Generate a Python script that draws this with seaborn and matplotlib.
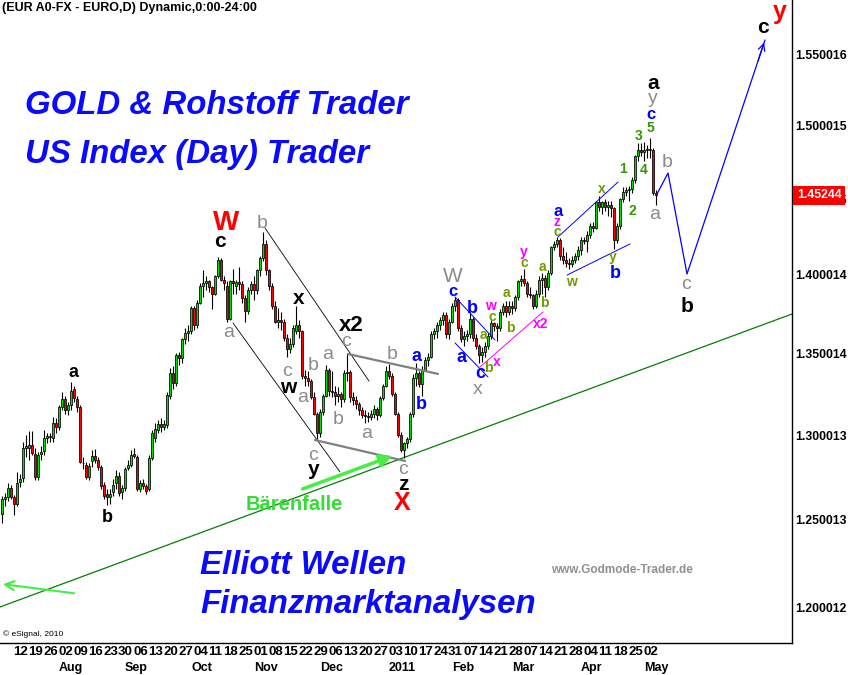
import numpy as np
import pandas as pd
import matplotlib
matplotlib.use("Agg")
import matplotlib.pyplot as plt
import matplotlib.transforms as mtransforms
from matplotlib.ticker import NullLocator, NullFormatter
import seaborn as sns

# ---------------- data (EUR daily candles, 6 Jul 2010 - 6 May 2011) ----------------
dates = pd.bdate_range("2010-07-06", "2011-05-06")
first_index = 2  # business days since 2 Jul 2010

opens = [
    1.2534, 1.2621, 1.2632, 1.2686,
    1.2634, 1.2592, 1.2722, 1.2744, 1.2922,
    1.2922, 1.2940, 1.2886, 1.2750, 1.2886,
    1.2904, 1.2982, 1.2992, 1.2982, 1.3073,
    1.3049, 1.3170, 1.3218, 1.3151, 1.3182,
    1.3280, 1.3218, 1.3170, 1.2835, 1.2820,
    1.2750, 1.2845, 1.2875, 1.2851, 1.2810,
    1.2703, 1.2651, 1.2633, 1.2662, 1.2715,
    1.2756, 1.2662, 1.2686, 1.2803, 1.2821,
    1.2886, 1.2869, 1.2680, 1.2715, 1.2697,
    1.2680, 1.2863, 1.2980, 1.3030, 1.3067,
    1.3048, 1.3060, 1.3240, 1.3380, 1.3320,
    1.3490, 1.3470, 1.3590, 1.3630, 1.3640,
    1.3790, 1.3680, 1.3820, 1.3930, 1.3945,
    1.3960, 1.3920, 1.3880, 1.3990, 1.4100,
    1.3970, 1.3930, 1.3720, 1.3960, 1.3930,
    1.3955, 1.3940, 1.3850, 1.3770, 1.3900,
    1.3940, 1.3900, 1.4030, 1.4110, 1.4200,
    1.4030, 1.3930, 1.3800, 1.3700, 1.3710,
    1.3700, 1.3600, 1.3530, 1.3560, 1.3640,
    1.3680, 1.3640, 1.3360, 1.3350, 1.3330,
    1.3230, 1.3130, 1.3010, 1.3140, 1.3240,
    1.3400, 1.3270, 1.3260, 1.3240, 1.3250,
    1.3220, 1.3380, 1.3385, 1.3230, 1.3215,
    1.3190, 1.3150, 1.3120, 1.3118, 1.3110,
    1.3130, 1.3160, 1.3120, 1.3225, 1.3300,
    1.3390, 1.3360, 1.3250, 1.3130, 1.3000,
    1.2910, 1.2950, 1.2975, 1.3125, 1.3350,
    1.3380, 1.3310, 1.3400, 1.3460, 1.3480,
    1.3620, 1.3640, 1.3680, 1.3710, 1.3740,
    1.3620, 1.3700, 1.3800, 1.3840, 1.3660,
    1.3590, 1.3610, 1.3620, 1.3720, 1.3600,
    1.3550, 1.3490, 1.3510, 1.3550, 1.3610,
    1.3690, 1.3670, 1.3660, 1.3760, 1.3800,
    1.3760, 1.3800, 1.3790, 1.3860, 1.3960,
    1.3975, 1.3950, 1.3880, 1.3870, 1.3800,
    1.3880, 1.3970, 1.3980, 1.3920, 1.4010,
    1.4180, 1.4200, 1.4230, 1.4120, 1.4100,
    1.4080, 1.4070, 1.4100, 1.4120, 1.4160,
    1.4230, 1.4220, 1.4260, 1.4320, 1.4310,
    1.4480, 1.4450, 1.4480, 1.4450, 1.4460,
    1.4440, 1.4230, 1.4320, 1.4500, 1.4550,
    1.4560, 1.4570, 1.4630, 1.4790, 1.4830,
    1.4820, 1.4830, 1.4840, 1.4830, 1.4540,
]
highs = [
    1.2640, 1.2655, 1.2715, 1.2702,
    1.2645, 1.2780, 1.2770, 1.2958, 1.2998,
    1.3024, 1.3024, 1.2920, 1.2900, 1.2935,
    1.3030, 1.3010, 1.3010, 1.3110, 1.3100,
    1.3180, 1.3262, 1.3240, 1.3200, 1.3323,
    1.3300, 1.3235, 1.3180, 1.2870, 1.2840,
    1.2830, 1.2910, 1.2915, 1.2870, 1.2820,
    1.2720, 1.2680, 1.2680, 1.2740, 1.2790,
    1.2780, 1.2700, 1.2810, 1.2850, 1.2910,
    1.2920, 1.2880, 1.2730, 1.2740, 1.2710,
    1.2880, 1.3030, 1.3073, 1.3090, 1.3100,
    1.3090, 1.3260, 1.3410, 1.3420, 1.3500,
    1.3510, 1.3600, 1.3660, 1.3680, 1.3800,
    1.3800, 1.3840, 1.3950, 1.4030, 1.3990,
    1.3970, 1.3930, 1.4000, 1.4115, 1.4110,
    1.3990, 1.3960, 1.3970, 1.4040, 1.3970,
    1.4050, 1.3960, 1.3870, 1.3920, 1.3960,
    1.3990, 1.4040, 1.4120, 1.4282, 1.4230,
    1.4040, 1.3950, 1.3830, 1.3790, 1.3760,
    1.3720, 1.3620, 1.3600, 1.3680, 1.3800,
    1.3710, 1.3650, 1.3400, 1.3390, 1.3340,
    1.3260, 1.3140, 1.3160, 1.3250, 1.3430,
    1.3410, 1.3390, 1.3300, 1.3290, 1.3260,
    1.3400, 1.3505, 1.3400, 1.3260, 1.3240,
    1.3200, 1.3170, 1.3150, 1.3140, 1.3150,
    1.3180, 1.3170, 1.3240, 1.3310, 1.3420,
    1.3435, 1.3380, 1.3260, 1.3140, 1.3020,
    1.2960, 1.2990, 1.3140, 1.3370, 1.3440,
    1.3390, 1.3420, 1.3480, 1.3500, 1.3640,
    1.3660, 1.3700, 1.3730, 1.3760, 1.3760,
    1.3720, 1.3820, 1.3860, 1.3850, 1.3680,
    1.3640, 1.3650, 1.3760, 1.3730, 1.3620,
    1.3560, 1.3540, 1.3570, 1.3630, 1.3710,
    1.3700, 1.3690, 1.3780, 1.3820, 1.3830,
    1.3830, 1.3830, 1.3870, 1.3970, 1.4000,
    1.4040, 1.3960, 1.3920, 1.3880, 1.3900,
    1.3990, 1.4010, 1.4000, 1.4030, 1.4190,
    1.4220, 1.4250, 1.4240, 1.4180, 1.4150,
    1.4110, 1.4120, 1.4140, 1.4190, 1.4250,
    1.4250, 1.4290, 1.4340, 1.4350, 1.4490,
    1.4520, 1.4490, 1.4500, 1.4490, 1.4490,
    1.4450, 1.4340, 1.4510, 1.4580, 1.4580,
    1.4590, 1.4650, 1.4800, 1.4880, 1.4880,
    1.4890, 1.4870, 1.4915, 1.4850, 1.4560,
]
lows = [
    1.2482, 1.2580, 1.2612, 1.2622,
    1.2525, 1.2580, 1.2690, 1.2720, 1.2868,
    1.2851, 1.2880, 1.2732, 1.2730, 1.2850,
    1.2880, 1.2950, 1.2960, 1.2960, 1.3010,
    1.3030, 1.3150, 1.3130, 1.3120, 1.3150,
    1.3200, 1.3140, 1.2830, 1.2800, 1.2740,
    1.2730, 1.2810, 1.2830, 1.2790, 1.2680,
    1.2620, 1.2586, 1.2590, 1.2640, 1.2680,
    1.2640, 1.2620, 1.2670, 1.2790, 1.2810,
    1.2860, 1.2670, 1.2660, 1.2680, 1.2650,
    1.2670, 1.2850, 1.2960, 1.3010, 1.3020,
    1.3030, 1.3040, 1.3220, 1.3280, 1.3300,
    1.3430, 1.3440, 1.3560, 1.3580, 1.3620,
    1.3650, 1.3660, 1.3810, 1.3860, 1.3900,
    1.3890, 1.3780, 1.3870, 1.3980, 1.3960,
    1.3900, 1.3700, 1.3710, 1.3880, 1.3880,
    1.3900, 1.3820, 1.3700, 1.3750, 1.3880,
    1.3840, 1.3880, 1.3990, 1.4090, 1.4000,
    1.3900, 1.3780, 1.3690, 1.3660, 1.3650,
    1.3580, 1.3480, 1.3500, 1.3540, 1.3620,
    1.3600, 1.3340, 1.3300, 1.3300, 1.3220,
    1.3120, 1.2975, 1.2990, 1.3120, 1.3230,
    1.3240, 1.3230, 1.3180, 1.3200, 1.3170,
    1.3200, 1.3330, 1.3200, 1.3180, 1.3160,
    1.3120, 1.3100, 1.3070, 1.3080, 1.3090,
    1.3100, 1.3090, 1.3110, 1.3210, 1.3290,
    1.3340, 1.3240, 1.3120, 1.2990, 1.2900,
    1.2860, 1.2920, 1.2960, 1.3110, 1.3300,
    1.3290, 1.3240, 1.3390, 1.3420, 1.3470,
    1.3590, 1.3600, 1.3650, 1.3680, 1.3600,
    1.3590, 1.3690, 1.3770, 1.3640, 1.3570,
    1.3550, 1.3580, 1.3600, 1.3580, 1.3530,
    1.3440, 1.3450, 1.3480, 1.3530, 1.3590,
    1.3640, 1.3580, 1.3640, 1.3740, 1.3730,
    1.3740, 1.3750, 1.3770, 1.3840, 1.3930,
    1.3930, 1.3860, 1.3850, 1.3780, 1.3790,
    1.3860, 1.3880, 1.3860, 1.3900, 1.4000,
    1.4160, 1.4180, 1.4100, 1.4070, 1.4050,
    1.4040, 1.4050, 1.4080, 1.4100, 1.4130,
    1.4200, 1.4150, 1.4240, 1.4280, 1.4300,
    1.4420, 1.4400, 1.4420, 1.4390, 1.4380,
    1.4170, 1.4210, 1.4300, 1.4480, 1.4520,
    1.4490, 1.4540, 1.4610, 1.4760, 1.4790,
    1.4760, 1.4780, 1.4780, 1.4530, 1.4460,
]
closes = [
    1.2621, 1.2632, 1.2686, 1.2634,
    1.2592, 1.2715, 1.2738, 1.2922, 1.2934,
    1.2940, 1.2892, 1.2750, 1.2880, 1.2898,
    1.2982, 1.2992, 1.2986, 1.3073, 1.3049,
    1.3170, 1.3218, 1.3151, 1.3182, 1.3268,
    1.3225, 1.3170, 1.2840, 1.2830, 1.2750,
    1.2815, 1.2875, 1.2851, 1.2810, 1.2697,
    1.2639, 1.2633, 1.2651, 1.2703, 1.2756,
    1.2656, 1.2686, 1.2797, 1.2821, 1.2880,
    1.2875, 1.2680, 1.2715, 1.2697, 1.2668,
    1.2860, 1.3012, 1.3036, 1.3067, 1.3048,
    1.3067, 1.3243, 1.3380, 1.3320, 1.3490,
    1.3470, 1.3590, 1.3630, 1.3640, 1.3790,
    1.3680, 1.3820, 1.3930, 1.3945, 1.3960,
    1.3920, 1.3880, 1.3990, 1.4100, 1.3970,
    1.3950, 1.3720, 1.3960, 1.3950, 1.3955,
    1.3940, 1.3850, 1.3770, 1.3900, 1.3940,
    1.3900, 1.4030, 1.4110, 1.4200, 1.4030,
    1.3930, 1.3800, 1.3700, 1.3710, 1.3700,
    1.3600, 1.3530, 1.3560, 1.3660, 1.3680,
    1.3640, 1.3360, 1.3350, 1.3330, 1.3230,
    1.3130, 1.3010, 1.3140, 1.3240, 1.3400,
    1.3270, 1.3260, 1.3240, 1.3250, 1.3220,
    1.3380, 1.3385, 1.3230, 1.3215, 1.3190,
    1.3150, 1.3120, 1.3118, 1.3110, 1.3130,
    1.3160, 1.3120, 1.3225, 1.3300, 1.3390,
    1.3360, 1.3250, 1.3130, 1.3000, 1.2910,
    1.2950, 1.2975, 1.3125, 1.3350, 1.3380,
    1.3310, 1.3400, 1.3460, 1.3480, 1.3620,
    1.3640, 1.3680, 1.3710, 1.3740, 1.3620,
    1.3700, 1.3800, 1.3840, 1.3660, 1.3590,
    1.3610, 1.3620, 1.3720, 1.3600, 1.3550,
    1.3490, 1.3510, 1.3550, 1.3610, 1.3690,
    1.3670, 1.3660, 1.3760, 1.3800, 1.3760,
    1.3800, 1.3790, 1.3860, 1.3960, 1.3975,
    1.3950, 1.3880, 1.3870, 1.3800, 1.3880,
    1.3970, 1.3980, 1.3920, 1.4010, 1.4180,
    1.4200, 1.4230, 1.4120, 1.4100, 1.4080,
    1.4070, 1.4100, 1.4120, 1.4160, 1.4230,
    1.4220, 1.4260, 1.4320, 1.4310, 1.4480,
    1.4450, 1.4480, 1.4450, 1.4460, 1.4440,
    1.4230, 1.4320, 1.4500, 1.4550, 1.4560,
    1.4570, 1.4630, 1.4790, 1.4830, 1.4820,
    1.4830, 1.4840, 1.4830, 1.4540, 1.45244,
]

y_ticks = [1.200012, 1.250013, 1.300013, 1.350014, 1.400014, 1.450015, 1.500015, 1.550016]
y_tick_labels = ["1.200012", "1.250013", "1.300013", "1.350014", "1.400014",
                 "1.450015", "1.500015", "1.550016"]
month_labels = ["Aug", "Sep", "Oct", "Nov", "Dec", "2011", "Feb", "Mar", "Apr", "May"]
last_price_label = "1.45244"

# Elliott wave annotations: (text, x index, price, colour key, size, bold)
wave_labels = [
    ("a", 25.67, 1.3379, "k", 13, True), ("b", 37.0, 1.2511, "k", 13, True),
    ("W", 76.67, 1.4340, "r", 20, True), ("c", 74.67, 1.4215, "k", 15, True),
    ("b", 88.67, 1.4334, "g", 14, False), ("a", 77.67, 1.3629, "g", 14, False),
    ("x", 101.0, 1.3851, "k", 15, True), ("c", 97.0, 1.3390, "g", 14, False),
    ("w", 97.33, 1.3292, "k", 15, True), ("b", 105.67, 1.3428, "g", 14, False),
    ("a", 102.33, 1.3225, "g", 14, False), ("a", 110.67, 1.3491, "g", 14, False),
    ("b", 114.0, 1.3091, "g", 14, False), ("x2", 118.33, 1.3673, "k", 16, True),
    ("c", 116.67, 1.3578, "g", 14, False), ("a", 123.67, 1.3012, "g", 14, False),
    ("b", 132.0, 1.3491, "g", 14, False), ("a", 140.33, 1.3484, "b", 13, True),
    ("b", 141.67, 1.3188, "b", 13, True), ("c", 105.67, 1.2880, "g", 14, False),
    ("y", 106.0, 1.2792, "k", 15, True), ("c", 135.67, 1.2797, "g", 14, False),
    ("z", 135.67, 1.2703, "k", 15, True), ("X", 135.33, 1.2598, "r", 18, True),
    ("W", 152.33, 1.3987, "g", 15, False), ("c", 152.33, 1.3890, "b", 12, True),
    ("b", 158.67, 1.3787, "b", 13, True), ("a", 155.33, 1.3472, "b", 13, True),
    ("c", 161.33, 1.3373, "b", 13, True), ("x", 160.67, 1.3274, "g", 14, False),
    ("w", 164.67, 1.3800, "m", 10, True), ("c", 165.33, 1.3730, "o", 10, True),
    ("a", 162.33, 1.3616, "o", 10, True), ("b", 171.33, 1.3660, "o", 10, True),
    ("b", 164.0, 1.3410, "o", 10, True), ("x", 167.0, 1.3447, "m", 10, True),
    ("a", 170.0, 1.3883, "o", 10, True), ("y", 176.0, 1.4148, "m", 10, True),
    ("c", 176.0, 1.4075, "o", 10, True), ("a", 182.0, 1.4051, "o", 10, True),
    ("b", 182.67, 1.3819, "o", 10, True), ("x2", 181.67, 1.3686, "m", 10, True),
    ("w", 191.67, 1.3954, "o", 10, True), ("a", 187.33, 1.4420, "b", 12, True),
    ("z", 187.0, 1.4347, "m", 10, True), ("c", 187.0, 1.4278, "o", 10, True),
    ("x", 202.0, 1.4568, "o", 10, True), ("y", 205.67, 1.4117, "o", 10, True),
    ("b", 206.33, 1.4006, "b", 13, True), ("1", 209.0, 1.4703, "n", 10, True),
    ("2", 212.0, 1.4420, "n", 10, True), ("3", 214.33, 1.4930, "n", 10, True),
    ("4", 216.0, 1.4697, "n", 10, True), ("5", 218.0, 1.4985, "n", 10, True),
    ("a", 219.67, 1.4394, "g", 14, False), ("a", 219.0, 1.5300, "k", 15, True),
    ("y", 219.0, 1.5188, "g", 14, False), ("c", 218.33, 1.5082, "b", 12, True),
    ("b", 223.67, 1.4751, "g", 14, False), ("c", 230.0, 1.3935, "g", 14, False),
    ("b", 230.33, 1.3794, "k", 15, True), ("c", 255.67, 1.5702, "k", 15, True),
    ("y", 261.33, 1.5812, "r", 18, True),
]
label_colors = {"k": "black", "r": "#ff0000", "g": "#8c8c8c", "b": "#0000ff",
                "m": "#ff00ff", "o": "#6f9a00", "n": "#339900"}

# analyst lines: (x pair, price pair, colour, width)
support_x, support_y = [1.33, 265.33], [1.20056, 1.37491]
channel_lines = [
    ([89.67, 124.33], [1.4307, 1.3329], "black", 0.6),
    ([79.0, 114.67], [1.3692, 1.2780], "black", 0.6),
    ([117.33, 147.33], [1.3497, 1.3373], "#808080", 1.6),
    ([106.33, 136.33], [1.2970, 1.2845], "#808080", 1.6),
    ([153.0, 166.33], [1.3858, 1.3585], "#0000ff", 0.7),
    ([153.0, 164.0], [1.3566, 1.3354], "#0000ff", 0.7),
    ([161.33, 182.33], [1.3416, 1.3762], "#ff00ff", 0.7),
    ([187.33, 207.33], [1.4248, 1.4615], "#0000ff", 0.7),
    ([190.33, 211.33], [1.3999, 1.4202], "#0000ff", 0.7),
]
projection_x = [220.33, 224.0, 230.33, 256.33]
projection_y = [1.4534, 1.4676, 1.4006, 1.5608]
trap_arrow = ((101.33, 1.2674), (133.0, 1.2881))
left_arrow = ((27.0, 1.2080), (1.4, 1.2135))

# ---------------- drawing ----------------
sns.set_theme(style="white")
plt.rcParams['font.family'] = ['Liberation Sans', 'DejaVu Sans']

W, H = 848, 675
fig = plt.figure(figsize=(W / 100, H / 100), dpi=100)
fig.patch.set_facecolor("white")
ax = fig.add_axes([0, 32 / H, 792 / W, 643 / H])
ax.set_facecolor("white")

df = pd.DataFrame({"date": dates, "open": opens, "high": highs, "low": lows, "close": closes})
df["x"] = np.arange(len(df)) + first_index
up = df["close"] >= df["open"]
body_bottom = np.minimum(df["open"], df["close"])
body_height = np.maximum(np.abs(df["close"] - df["open"]), 0.0005)

ax.vlines(df["x"], df["low"], df["high"], color="black", lw=0.8, zorder=2)
ax.bar(df["x"], body_height, bottom=body_bottom, width=0.85,
       color=np.where(up, "#00e000", "#ff0000"), edgecolor="black", linewidth=0.55, zorder=3)

sns.lineplot(x=support_x, y=support_y, color="#008000", lw=0.9, ax=ax, zorder=1)
for xs, ys, col, lw in channel_lines:
    ax.plot(xs, ys, color=col, lw=lw, zorder=4)
ax.plot(projection_x, projection_y, color="#0000ff", lw=0.9, zorder=4)
ax.annotate("", xy=(projection_x[-1], projection_y[-1]),
            xytext=(projection_x[-2] + 0.9 * (projection_x[-1] - projection_x[-2]),
                    projection_y[-2] * (projection_y[-1] / projection_y[-2]) ** 0.9),
            arrowprops=dict(arrowstyle="->", color="#0000ff", lw=0.9, mutation_scale=12))
ax.annotate("", xy=trap_arrow[1], xytext=trap_arrow[0],
            arrowprops=dict(arrowstyle="-|>", color="#44ee44", lw=2.5, mutation_scale=18),
            zorder=5)
ax.annotate("", xy=left_arrow[1], xytext=left_arrow[0],
            arrowprops=dict(arrowstyle="->", color="#44ee44", lw=1.5, mutation_scale=16),
            zorder=5, annotation_clip=False)

for txt, xi, pr, ck, sz, bold in wave_labels:
    ax.text(xi, pr, txt, color=label_colors[ck], fontsize=sz,
            fontweight="bold" if bold else "normal", ha="center", va="center", zorder=6)

ax.set_yscale("log")
ax.set_xlim(4 / 3, 265.33)
ax.set_ylim(1.18072, 1.58995)

ax.yaxis.set_minor_locator(NullLocator())
ax.yaxis.set_minor_formatter(NullFormatter())
ax.set_yticks(y_ticks)
ax.set_yticklabels(y_tick_labels)
ax.yaxis.tick_right()
ax.tick_params(axis="y", length=0, pad=2, labelsize=8.8, labelcolor="black")
for t in ax.get_yticklabels():
    t.set_fontweight("bold")

mondays = df[df["date"].dt.dayofweek == 0]
ax.set_xticks(mondays["x"] - 0.33)
ax.set_xticklabels([f"{d.day:02d}" for d in mondays["date"]], ha="left")
ax.tick_params(axis="x", length=0, pad=2, labelsize=9.5, labelcolor="black")
for t in ax.get_xticklabels():
    t.set_fontweight("bold")

month_first = df.groupby(df["date"].dt.to_period("M"))["x"].min().iloc[1:]
blend = mtransforms.blended_transform_factory(ax.transData, ax.transAxes)
for xm, lab in zip(month_first.values, month_labels):
    ax.text(xm, -25 / 643, lab, transform=blend, ha="left", va="center",
            fontsize=9, fontweight="bold", color="black")

for side in ["left", "top"]:
    ax.spines[side].set_visible(False)
for side in ["bottom", "right"]:
    ax.spines[side].set_color("black")
    ax.spines[side].set_linewidth(1.0)
ax.grid(False)

# last price marker
ax.annotate(last_price_label, xy=(1.0, closes[-1]), xycoords=("axes fraction", "data"),
            xytext=(3.5, 0), textcoords="offset points", ha="left", va="center",
            fontsize=8.8, fontweight="bold", color="white", zorder=10, annotation_clip=False,
            bbox=dict(boxstyle="square,pad=0.3", fc="#ff0000", ec="none"))

def fx(px):
    return px / W

def fy(py):
    return 1 - py / H

fig.text(fx(2), fy(8), "(EUR A0-FX - EURO,D) Dynamic,0:00-24:00", fontsize=9,
         fontweight="bold", ha="left", va="center", color="black")
big = dict(fontsize=23.8, fontweight="bold", fontstyle="italic", color="#0a0aff",
           ha="left", va="center")
fig.text(fx(25), fy(106), "GOLD & Rohstoff Trader", **big)
fig.text(fx(25), fy(154), "US Index (Day) Trader", **big)
fig.text(fx(200), fy(565), "Elliott Wellen", **big)
fig.text(fx(200), fy(605), "Finanzmarktanalysen", **big)
fig.text(fx(551), fy(570), "www.Godmode-Trader.de", fontsize=8.5, fontweight="bold",
         color="#909090", ha="left", va="center")
fig.text(fx(246), fy(505), "Bärenfalle", fontsize=14.5, fontweight="bold",
         color="#33dd33", ha="left", va="center")
fig.text(fx(3), fy(634), "© eSignal, 2010", fontsize=6, color="black", ha="left", va="center")

fig.savefig("out.png", dpi=100, facecolor="white")
